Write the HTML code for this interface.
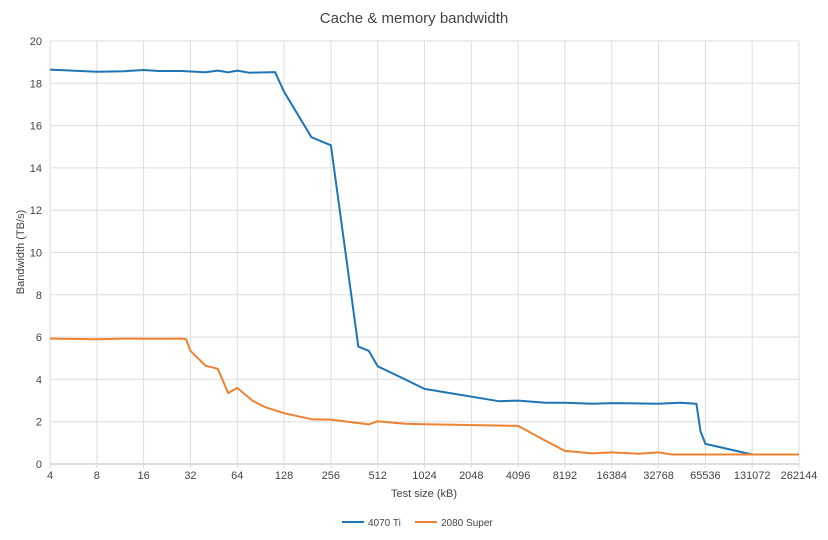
<!DOCTYPE html>
<html><head><meta charset="utf-8">
<style>
body{margin:0;background:#fff;}
svg{display:block;font-family:"Liberation Sans",sans-serif;}
</style></head>
<body>
<svg id="chart" width="828" height="540">
<text x="414" y="23" text-anchor="middle" font-size="15" fill="#444">Cache &amp; memory bandwidth</text>
<text transform="translate(24,252) rotate(-90)" text-anchor="middle" font-size="11" fill="#444">Bandwidth (TB/s)</text>
<text x="424" y="497" text-anchor="middle" font-size="11" fill="#444">Test size (kB)</text>
<g id="grid"></g><g id="series"></g>
<g>
<line x1="342" y1="522" x2="364" y2="522" stroke="#1f74b5" stroke-width="2"/>
<text x="368" y="526" font-size="10" fill="#444">4070 Ti</text>
<line x1="415" y1="522" x2="437" y2="522" stroke="#ee8230" stroke-width="2"/>
<text x="441" y="526" font-size="10" fill="#444">2080 Super</text>
</g>
</svg>
<script>
const xTicks=[4,8,16,32,64,128,256,512,1024,2048,4096,8192,16384,32768,65536,131072,262144];
const yTicks=[0,2,4,6,8,10,12,14,16,18,20];
const sizesA=[4,8,12,16,20,28,40,48,56,64,76,112,128,192,256,384,448,512,768,1024,3072,4096,6144,8192,12288,16384,32768,45000,57344,61000,65536,131072,262144];
const ti4070=[18.65,18.55,18.57,18.63,18.58,18.58,18.52,18.6,18.52,18.6,18.5,18.53,17.6,15.45,15.07,5.55,5.35,4.62,4.0,3.55,2.97,3.0,2.9,2.9,2.85,2.88,2.85,2.9,2.85,1.55,0.95,0.45,0.45];
const sizesB=[4,8,12,16,24,28,30,32,40,48,56,64,80,96,128,192,256,448,512,768,1024,4096,6144,8192,12288,16384,24576,32768,40000,262144];
const s2080=[5.93,5.9,5.93,5.92,5.92,5.93,5.9,5.35,4.65,4.5,3.35,3.6,3.0,2.7,2.4,2.12,2.1,1.87,2.02,1.9,1.88,1.8,1.1,0.62,0.5,0.55,0.48,0.55,0.45,0.45];
const L=50,R=799,T=41,B=464;
const xs=v=>L+(Math.log2(v)-2)/16*(R-L);
const ys=v=>B-v/20*(B-T);
const NS="http://www.w3.org/2000/svg";
const grid=document.getElementById('grid'),ser=document.getElementById('series');
function mk(tag,attrs,parent){const e=document.createElementNS(NS,tag);for(const k in attrs)e.setAttribute(k,attrs[k]);parent.appendChild(e);return e;}
yTicks.forEach(v=>{
 const l=mk('line',{x1:L,x2:R,y1:ys(v),y2:ys(v),stroke:v===0?'#bbb':'#ddd','stroke-width':1},grid);
 
 
 const t=mk('text',{x:L-8,y:ys(v)+4,'text-anchor':'end','font-size':11,fill:'#444'},grid);
 t.textContent=v;
 
 
});
xTicks.forEach(v=>{
 const l=mk('line',{x1:xs(v),x2:xs(v),y1:T,y2:B+4,stroke:'#ddd','stroke-width':1},grid);
 
 
 const t=mk('text',{x:xs(v),y:B+15,'text-anchor':'middle','font-size':11,fill:'#444'},grid);
 t.textContent=v;
 
 
});
function line(xsArr,ysArr,color,name){
 const d=xsArr.map((x,i)=>(i?'L':'M')+xs(x).toFixed(1)+' '+ys(ysArr[i]).toFixed(1)).join(' ');
 const p=mk('path',{d:d,fill:'none',stroke:color,'stroke-width':2,'stroke-linejoin':'round'},ser);
 
 
}
line(sizesA,ti4070,'#1f74b5','series-4070ti');
line(sizesB,s2080,'#ee8230','series-2080super');
</script>
</body></html>
